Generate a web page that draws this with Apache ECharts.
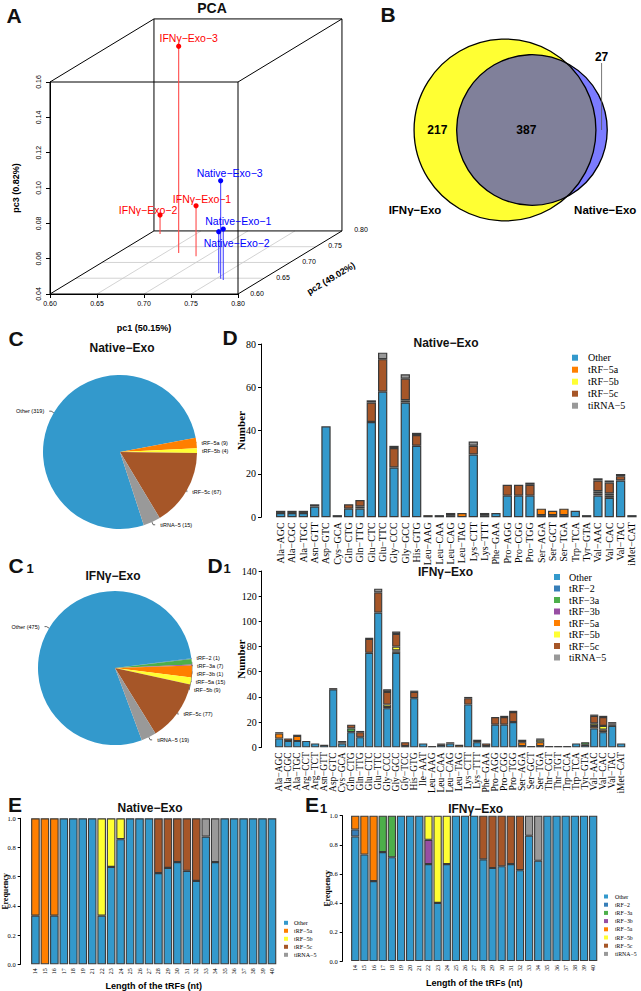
<!DOCTYPE html>
<html>
<head>
<meta charset="utf-8">
<script src="https://cdn.jsdelivr.net/npm/echarts@6.0.0/dist/echarts.min.js"></script>
<style>html,body{margin:0;padding:0;background:#ffffff;}#chart{width:641px;height:991px;}</style>
</head>
<body>
<div id="chart"></div>
<script>
// ================= DATA =================
// Panel A: PCA
const pcaNames = ['IFNγ−Exo−3', 'IFNγ−Exo−1', 'IFNγ−Exo−2', 'Native−Exo−3', 'Native−Exo−1', 'Native−Exo−2'];
const pcaGroup = ['IFN', 'IFN', 'IFN', 'Native', 'Native', 'Native'];
const pcaPC1 = [0.665, 0.689, 0.612, 0.755, 0.760, 0.743];
const pcaPC2 = [0.730, 0.720, 0.790, 0.648, 0.644, 0.666];
const pcaPC3 = [0.157, 0.0685, 0.0508, 0.0955, 0.0689, 0.0635];
const pc2Ticks = [0.60, 0.65, 0.70, 0.75, 0.80];
const pcaAxisTitles = ['pc1 (50.15%)', 'pc2 (49.02%)', 'pc3 (0.82%)'];

// Panel B: Venn
const vennSets = ['IFNγ−Exo', 'Native−Exo'];
const vennOnlyIFN = 217;
const vennBoth = 387;
const vennOnlyNative = 27;

// Panels C / C1: pies
const nativePieNames = ['Other', 'tRF−5a', 'tRF−5b', 'tRF−5c', 'tiRNA−5'];
const nativePieValues = [319, 9, 4, 67, 15];
const ifnPieNames = ['Other', 'tRF−2', 'tRF−3a', 'tRF−3b', 'tRF−5a', 'tRF−5b', 'tRF−5c', 'tiRNA−5'];
const ifnPieValues = [475, 1, 7, 1, 15, 9, 77, 19];

// Panel D: Native-Exo counts per tRNA
const nativeCats = ['Ala−AGC','Ala−CGC','Ala−TGC','Asn−GTT','Asp−GTC','Cys−GCA','Gln−CTG','Gln−TTG','Glu−CTC','Glu−TTC','Gly−CCC','Gly−GCC','His−GTG','Leu−AAG','Leu−CAA','Leu−CAG','Leu−TAG','Lys−CTT','Lys−TTT','Phe−GAA','Pro−AGG','Pro−CGG','Pro−TGG','Ser−AGA','Ser−GCT','Ser−TGA','Trp−TCA','Tyr−GTA','Val−AAC','Val−CAC','Val−TAC','iMet−CAT'];
const nativeOther  = [2,2,2,5,42,1,4,4,44,58,23,53,33,0,1,1,0,29,1,2,10,10,10,1,1,1,3,1,10,9,17,1];
const nativeTRF5a  = [0,0,0,0,0,0,0,0,0,0,0,0,0,1,0,1,2,0,0,0,0,0,0,3,2,3,0,0,1,1,0,0];
const nativeTRF5b  = [1,1,1,0,0,0,0,1,0,0,0,1,0,0,0,0,0,0,0,0,0,0,0,0,0,0,0,0,1,1,0,0];
const nativeTRF5c  = [0,0,0,0,0,0,2,3,9,15,9,10,5,0,0,0,0,4,1,0,5,5,5,0,0,0,0,0,5,5,2,0];
const nativeTiRNA5 = [0,0,0,1,0,0,0,0,1,3,1,2,1,0,0,0,0,2,0,0,0,0,1,0,0,0,0,0,1,1,1,0];

// Panel D1: IFNγ-Exo counts per tRNA
const ifnCats = ['Ala−AGC','Ala−CGC','Ala−TGC','Arg−CCT','Arg−TCT','Asn−GTT','Asp−GTC','Cys−GCA','Gln−CTG','Gln−TTG','Glu−CTC','Glu−TTC','Gly−CCC','Gly−GCC','Gly−TCC','His−GTG','Ile−AAT','Leu−AAG','Leu−CAA','Leu−CAG','Leu−TAG','Lys−CTT','Lys−TTT','Phe−GAA','Pro−AGG','Pro−CGG','Pro−TGG','Ser−AGA','Ser−GCT','Ser−TGA','Thr−CGT','Thr−TGT','Trp−CCA','Trp−TCA','Tyr−GTA','Val−AAC','Val−CAC','Val−TAC','iMet−CAT'];
const ifnOther  = [7,5,5,5,3,2,46,3,12,8,75,107,31,75,1,39,3,0,2,3,0,34,4,1,18,18,20,1,0,1,1,1,1,3,2,15,12,17,3];
const ifnTRF2   = [0,0,0,0,0,0,0,0,0,0,0,0,0,0,0,0,0,0,0,0,0,0,0,0,0,0,0,0,0,0,0,0,0,0,0,0,0,0,0];
const ifnTRF3a  = [0,0,0,0,0,0,0,0,3,0,0,0,0,1,0,0,0,0,0,0,0,0,0,0,0,0,0,0,0,0,0,0,0,0,2,0,0,0,0];
const ifnTRF3b  = [0,0,0,0,0,0,0,0,0,0,0,0,0,0,0,0,0,0,0,0,0,0,0,0,0,0,0,0,0,0,0,0,0,0,0,0,0,0,0];
const ifnTRF5a  = [4,0,4,0,0,0,0,1,0,0,0,0,1,1,0,0,0,1,0,0,2,0,0,0,0,0,0,3,0,3,0,0,0,0,0,2,2,1,0];
const ifnTRF5b  = [0,0,0,0,0,0,0,0,0,0,0,0,2,3,0,0,0,0,0,0,0,0,0,0,0,0,0,1,0,2,0,0,0,0,0,2,3,0,0];
const ifnTRF5c  = [1,2,1,0,0,0,1,1,3,4,11,16,10,10,3,5,0,0,1,1,0,5,1,2,6,6,8,0,1,0,0,0,0,0,0,6,7,1,0];
const ifnTiRNA5 = [0,0,0,0,0,0,0,0,0,1,1,3,2,2,0,1,0,0,0,0,0,1,1,0,0,1,1,1,0,1,0,0,0,0,0,1,1,1,0];

// Panel E: Native-Exo frequency by length
const eNativeLengths = ['14','15','16','17','18','19','21','22','23','24','25','26','27','28','29','30','31','32','33','34','35','36','37','38','39','40'];
const eNativeOther  = [0.333,0,0.333,1,1,1,1,0.333,0.667,0.857,1,1,1,0.625,0.66,0.70,0.64,0.571,0.875,0.70,1,1,1,1,1,1];
const eNativeTRF5a  = [0.667,1,0.667,0,0,0,0,0,0,0,0,0,0,0,0,0,0,0,0,0,0,0,0,0,0,0];
const eNativeTRF5b  = [0,0,0,0,0,0,0,0.667,0.333,0.143,0,0,0,0,0,0,0,0,0,0,0,0,0,0,0,0];
const eNativeTRF5c  = [0,0,0,0,0,0,0,0,0,0,0,0,0,0.375,0.34,0.30,0.36,0.429,0,0,0,0,0,0,0,0];
const eNativeTiRNA5 = [0,0,0,0,0,0,0,0,0,0,0,0,0,0,0,0,0,0,0.125,0.30,0,0,0,0,0,0];

// Panel E1: IFNγ-Exo frequency by length
const eIfnLengths = ['14','15','16','17','18','19','20','21','22','23','24','25','26','27','28','29','30','31','32','33','34','35','36','37','38','39','40'];
const eIfnOther  = [0.857,0.733,0.55,0.75,0.714,1,1,1,0.667,0.4,0.667,1,1,1,0.7,0.64,0.652,0.667,0.625,0.862,0.69,1,1,1,1,1,1];
const eIfnTRF2   = [0.048,0,0,0,0,0,0,0,0,0,0,0,0,0,0,0,0,0,0,0,0,0,0,0,0,0,0];
const eIfnTRF3a  = [0,0,0,0.25,0.286,0,0,0,0,0,0,0,0,0,0,0,0,0,0,0,0,0,0,0,0,0,0];
const eIfnTRF3b  = [0,0,0,0,0,0,0,0,0.167,0,0,0,0,0,0,0,0,0,0,0,0,0,0,0,0,0,0];
const eIfnTRF5a  = [0.095,0.267,0.45,0,0,0,0,0,0,0,0,0,0,0,0,0,0,0,0,0,0,0,0,0,0,0,0];
const eIfnTRF5b  = [0,0,0,0,0,0,0,0,0.166,0.6,0.333,0,0,0,0,0,0,0,0,0,0,0,0,0,0,0,0];
const eIfnTRF5c  = [0,0,0,0,0,0,0,0,0,0,0,0,0,0,0.3,0.36,0.348,0.333,0.375,0,0,0,0,0,0,0,0];
const eIfnTiRNA5 = [0,0,0,0,0,0,0,0,0,0,0,0,0,0,0,0,0,0,0,0.138,0.31,0,0,0,0,0,0];

// ================= STYLE =================
const SANS = "'Liberation Sans', Arial, sans-serif";
const SERIF = "'Liberation Serif', 'Times New Roman', serif";
const typeColors = {
  'Other': '#3399CC', 'tRF−2': '#377EB8', 'tRF−3a': '#4DAF4A', 'tRF−3b': '#984EA3',
  'tRF−5a': '#FF7F00', 'tRF−5b': '#FFFF33', 'tRF−5c': '#A65628', 'tiRNA−5': '#999999'
};
const nativeTypes = ['Other', 'tRF−5a', 'tRF−5b', 'tRF−5c', 'tiRNA−5'];
const ifnTypes = ['Other', 'tRF−2', 'tRF−3a', 'tRF−3b', 'tRF−5a', 'tRF−5b', 'tRF−5c', 'tiRNA−5'];
const pcaLabelOffsets = [[10, -8], [6, -7], [-12, -5], [9, -8], [15, -8], [18, 11]];

// PCA oblique projection (pc2 depth mapped onto pc1/pc3 data units)
const PC1_MIN = 0.6, PC1_MAX = 0.8, PC2_MIN = 0.6, PC2_MAX = 0.8, PC3_MIN = 0.04, PC3_MAX = 0.16;
const DEPTH_X = 0.553, DEPTH_Y = 0.1785;
function proj(api, p1, p2, p3) {
  return api.coord([p1 + DEPTH_X * (p2 - PC2_MIN), p3 + DEPTH_Y * (p2 - PC2_MIN)]);
}
function seg(a, b, style) {
  return { type: 'line', shape: { x1: a[0], y1: a[1], x2: b[0], y2: b[1] }, style: style };
}

// Venn layout
const VENN_CX = 505, VENN_CY = 130, VENN_PX_PER_SQRT = 3.70;
function lensArea(r1, r2, d) {
  if (d >= r1 + r2) return 0;
  if (d <= Math.abs(r1 - r2)) return Math.PI * Math.min(r1, r2) ** 2;
  const a1 = Math.acos((d * d + r1 * r1 - r2 * r2) / (2 * d * r1));
  const a2 = Math.acos((d * d + r2 * r2 - r1 * r1) / (2 * d * r2));
  const k = 0.5 * Math.sqrt((-d + r1 + r2) * (d + r1 - r2) * (d - r1 + r2) * (d + r1 + r2));
  return r1 * r1 * a1 + r2 * r2 * a2 - k;
}

function barStack(types, arrays, axisIdx, stack, gap, bw) {
  return types.map((t, k) => ({
    type: 'bar', name: t, xAxisIndex: axisIdx, yAxisIndex: axisIdx, stack: stack,
    data: arrays[k].map(v => (v === 0 ? null : v)),
    barCategoryGap: gap,
    itemStyle: { color: typeColors[t], borderColor: '#3a3a3a', borderWidth: bw },
    emphasis: { disabled: true }, silent: true
  }));
}

function pieSeries(names, values, center, startAngle) {
  return {
    type: 'pie', center: center, radius: 77, startAngle: startAngle, clockwise: true,
    data: names.map((n, i) => ({ name: n, value: values[i], itemStyle: { color: typeColors[n] } })),
    label: { show: true, position: 'outside', formatter: '{b} ({c})', fontSize: 5.5, fontFamily: SANS, color: '#000' },
    labelLine: { show: true, length: 3, length2: 2, lineStyle: { color: '#000', width: 0.6 } },
    itemStyle: { borderWidth: 0 }, emphasis: { disabled: true }, silent: true, avoidLabelOverlap: true
  };
}

const gridBase = { containLabel: false, outerBoundsMode: 'none' };
const blackLine = { show: true, lineStyle: { color: '#000', width: 1 } };

function catX(gi, cats, fs, margin, extra) {
  return Object.assign({
    type: 'category', gridIndex: gi, data: cats,
    axisLine: { show: false }, axisTick: { show: false },
    axisLabel: { interval: 0, rotate: 90, fontSize: fs, fontFamily: SERIF, color: '#000', margin: margin },
    splitLine: { show: false }
  }, extra || {});
}
function valY(gi, max, interval, offset, fs, name, nameGap, nameSize, fmt) {
  return {
    type: 'value', gridIndex: gi, min: 0, max: max, interval: interval, offset: offset,
    axisLine: blackLine, axisTick: { show: true, length: 3, lineStyle: { color: '#000' } },
    axisLabel: { fontSize: fs, fontFamily: SERIF, color: '#000', margin: 5, formatter: fmt },
    splitLine: { show: false },
    name: name, nameLocation: 'middle', nameGap: nameGap, nameRotate: 90, nameMoveOverlap: false,
    nameTextStyle: { fontFamily: SERIF, fontWeight: 'bold', fontSize: nameSize, color: '#000' }
  };
}
function legendAt(left, top, names, fs, iconSize, lineH, gap, pad) {
  return {
    left: left, top: top, orient: 'vertical', data: names, icon: 'rect', padding: 0,
    itemWidth: iconSize, itemHeight: iconSize, itemGap: gap, selectedMode: false,
    itemStyle: { borderWidth: 0 },
    textStyle: { fontFamily: SERIF, fontSize: fs, color: '#000', lineHeight: lineH, padding: [0, 0, 0, pad] }
  };
}

const texts = [
  ['A', 14, 15, 21], ['PCA', 212, 8, 14], ['B', 388, 14, 21],
  ['C', 16, 338, 21], ['Native−Exo', 122, 348, 12], ['D', 230, 337, 21], ['Native−Exo', 446, 343, 12],
  ['C', 16, 565, 21], ['1', 30, 568, 13], ['IFNγ−Exo', 113, 575.5, 12],
  ['D', 215, 565, 21], ['1', 227, 568, 13], ['IFNγ−Exo', 445.5, 572, 12],
  ['E', 15, 804, 21], ['Native−Exo', 150, 807.5, 12],
  ['E', 312, 804, 21], ['1', 323.5, 808, 13], ['IFNγ−Exo', 475.7, 809, 12]
];

const option = {
  animation: false,
  textStyle: { fontFamily: SANS },
  grid: [
    Object.assign({ left: 50, top: 82, width: 188, height: 212 }, gridBase),
    Object.assign({ left: 275, top: 344, width: 362.6, height: 173.3 }, gridBase),
    Object.assign({ left: 274.7, top: 571, width: 351, height: 176.3 }, gridBase),
    Object.assign({ left: 30.7, top: 818.3, width: 246, height: 146 }, gridBase),
    Object.assign({ left: 350.7, top: 815.7, width: 247, height: 145.3 }, gridBase)
  ],
  xAxis: [
    {
      type: 'value', gridIndex: 0, min: PC1_MIN, max: PC1_MAX, interval: 0.05,
      axisLine: blackLine, axisTick: { show: true, length: 4, lineStyle: { color: '#000' } },
      axisLabel: { fontSize: 7, color: '#000', fontFamily: SANS, margin: 6, formatter: v => v.toFixed(2) },
      splitLine: { show: false },
      name: pcaAxisTitles[0], nameLocation: 'middle', nameGap: 29, nameMoveOverlap: false,
      nameTextStyle: { fontWeight: 'bold', fontSize: 9, color: '#000', fontFamily: SANS }
    },
    catX(1, nativeCats, 10, 5),
    catX(2, ifnCats, 9.5, 5),
    catX(3, eNativeLengths, 6, 4, {
      name: 'Length of the tRFs (nt)', nameLocation: 'middle', nameGap: 17, nameMoveOverlap: false,
      nameTextStyle: { fontFamily: SANS, fontWeight: 'bold', fontSize: 9, color: '#000' }
    }),
    catX(4, eIfnLengths, 6, 4, {
      name: 'Length of the tRFs (nt)', nameLocation: 'middle', nameGap: 17, nameMoveOverlap: false,
      nameTextStyle: { fontFamily: SANS, fontWeight: 'bold', fontSize: 9, color: '#000' }
    })
  ],
  yAxis: [
    {
      type: 'value', gridIndex: 0, min: PC3_MIN, max: PC3_MAX, interval: 0.02,
      axisLine: blackLine, axisTick: { show: true, length: 4, lineStyle: { color: '#000' } },
      axisLabel: { fontSize: 7, color: '#000', fontFamily: SANS, margin: 8, rotate: 90, formatter: v => v.toFixed(2) },
      splitLine: { show: false },
      name: pcaAxisTitles[2], nameLocation: 'middle', nameGap: 30, nameRotate: 90, nameMoveOverlap: false,
      nameTextStyle: { fontWeight: 'bold', fontSize: 9, color: '#000', fontFamily: SANS }
    },
    valY(1, 80, 20, 14, 10, 'Number', 15, 11),
    valY(2, 140, 20, 13, 10, 'Number', 15, 11),
    valY(3, 1, 0.2, 10, 6.5, 'Frequency', 11, 8, v => v.toFixed(1)),
    valY(4, 1, 0.2, 8, 6.5, 'Frequency', 11, 8, v => v.toFixed(1))
  ],
  legend: [
    legendAt(572, 352.7, nativeTypes, 10, 6, 10, 2, 5),
    legendAt(554, 572, ifnTypes, 10, 6, 10, 1.5, 4),
    legendAt(284, 919.3, nativeTypes, 6, 4, 7, 1, 1),
    legendAt(604, 893, ifnTypes, 5.8, 4, 7, 1.2, 2)
  ],
  series: [].concat(
    // PCA box, floor grid, pc2 axis labels
    [{
      type: 'custom', xAxisIndex: 0, yAxisIndex: 0, silent: true, clip: false,
      data: [[PC1_MIN, PC3_MIN]],
      renderItem: function (params, api) {
        const P = (a, b, c) => proj(api, a, b, c);
        const ch = [];
        const gridStyle = { stroke: '#c8c8c8', lineWidth: 0.8 };
        pc2Ticks.slice(1, -1).forEach(t => {
          ch.push(seg(P(PC1_MIN, t, PC3_MIN), P(PC1_MAX, t, PC3_MIN), gridStyle));
        });
        [0.65, 0.70, 0.75].forEach(t => {
          ch.push(seg(P(t, PC2_MIN, PC3_MIN), P(t, PC2_MAX, PC3_MIN), gridStyle));
        });
        const cs = [];
        [PC1_MIN, PC1_MAX].forEach(x => [PC2_MIN, PC2_MAX].forEach(y => [PC3_MIN, PC3_MAX].forEach(z => cs.push([x, y, z]))));
        const boxStyle = { stroke: '#000', lineWidth: 1 };
        for (let i = 0; i < cs.length; i++) for (let j = i + 1; j < cs.length; j++) {
          let diff = 0;
          for (let k = 0; k < 3; k++) if (cs[i][k] !== cs[j][k]) diff++;
          if (diff === 1) ch.push(seg(P(cs[i][0], cs[i][1], cs[i][2]), P(cs[j][0], cs[j][1], cs[j][2]), boxStyle));
        }
        pc2Ticks.forEach(t => {
          const q = P(PC1_MAX, t, PC3_MIN);
          ch.push({ type: 'text', x: q[0] + 19, y: q[1] - 1, style: { text: t.toFixed(2), fontSize: 7, fontFamily: SANS, fill: '#000', align: 'center', verticalAlign: 'middle' } });
        });
        const m = P(PC1_MAX, (PC2_MIN + PC2_MAX) / 2, PC3_MIN);
        ch.push({ type: 'text', x: m[0] + 41, y: m[1] + 16, rotation: 0.54, style: { text: pcaAxisTitles[1], fontSize: 9, fontWeight: 'bold', fontFamily: SANS, fill: '#000', align: 'center', verticalAlign: 'middle' } });
        return { type: 'group', children: ch };
      }
    },
    // PCA points
    {
      type: 'custom', xAxisIndex: 0, yAxisIndex: 0, silent: true, clip: false,
      data: pcaPC1.map((v, i) => [v, pcaPC3[i]]),
      renderItem: function (params, api) {
        const i = params.dataIndex;
        const p = proj(api, pcaPC1[i], pcaPC2[i], pcaPC3[i]);
        const f = proj(api, pcaPC1[i], pcaPC2[i], PC3_MIN);
        const ifn = pcaGroup[i] === 'IFN';
        const col = ifn ? '#FF0000' : '#0000FF';
        const lcol = ifn ? '#FF4B4B' : '#4B4BFF';
        const off = pcaLabelOffsets[i];
        return { type: 'group', children: [
          seg(p, f, { stroke: lcol, lineWidth: 1.1 }),
          { type: 'circle', shape: { cx: p[0], cy: p[1], r: 2.6 }, style: { fill: col } },
          { type: 'text', x: p[0] + off[0], y: p[1] + off[1], style: { text: pcaNames[i], fill: col, fontSize: 10.5, fontFamily: SANS, align: 'center', verticalAlign: 'middle' } }
        ] };
      }
    },
    // Venn diagram
    {
      type: 'custom', coordinateSystem: 'none', silent: true, data: [0],
      renderItem: function (params, api) {
        const nI = vennOnlyIFN + vennBoth, nN = vennOnlyNative + vennBoth;
        const r1 = VENN_PX_PER_SQRT * Math.sqrt(nI), r2 = VENN_PX_PER_SQRT * Math.sqrt(nN);
        const target = vennBoth / nI * Math.PI * r1 * r1;
        let lo = Math.abs(r1 - r2) + 1e-6, hi = r1 + r2;
        for (let k = 0; k < 80; k++) {
          const mid = (lo + hi) / 2;
          if (lensArea(r1, r2, mid) > target) lo = mid; else hi = mid;
        }
        const d = (lo + hi) / 2;
        const c1 = [VENN_CX, VENN_CY], c2 = [VENN_CX + d, VENN_CY];
        const a = (d * d + r1 * r1 - r2 * r2) / (2 * d);
        const h = Math.sqrt(Math.max(r1 * r1 - a * a, 0));
        const pts = [];
        const b1 = Math.atan2(-h, a - d), b2 = Math.atan2(h, a - d) - 2 * Math.PI;
        for (let s = 0; s <= 120; s++) {
          const t = b1 + (b2 - b1) * s / 120;
          pts.push([c2[0] + r2 * Math.cos(t), c2[1] + r2 * Math.sin(t)]);
        }
        const y1 = Math.atan2(h, a), y2 = Math.atan2(-h, a);
        for (let s = 0; s <= 60; s++) {
          const t = y1 + (y2 - y1) * s / 60;
          pts.push([c1[0] + r1 * Math.cos(t), c1[1] + r1 * Math.sin(t)]);
        }
        const xm = (c1[0] + r1 + c2[0] + r2) / 2;
        const txt = (s, x, y, fs) => ({ type: 'text', x: x, y: y, style: { text: s, fontSize: fs || 12, fontWeight: 'bold', fontFamily: SANS, fill: '#000', align: 'center', verticalAlign: 'middle' } });
        return { type: 'group', children: [
          { type: 'circle', shape: { cx: c1[0], cy: c1[1], r: r1 }, style: { fill: '#FFFF33' } },
          { type: 'circle', shape: { cx: c2[0], cy: c2[1], r: r2 }, style: { fill: '#7B7BFF' } },
          { type: 'polygon', shape: { points: pts }, style: { fill: '#80809A' } },
          { type: 'circle', shape: { cx: c1[0], cy: c1[1], r: r1 }, style: { fill: null, stroke: '#000', lineWidth: 1.3 } },
          { type: 'circle', shape: { cx: c2[0], cy: c2[1], r: r2 }, style: { fill: null, stroke: '#000', lineWidth: 1.3 } },
          txt(String(vennOnlyIFN), (c1[0] - r1 + c2[0] - r2) / 2 + 2, c1[1]),
          txt(String(vennBoth), (c2[0] - r2 + c1[0] + r1) / 2, c1[1]),
          seg([xm, c1[1] - 67], [xm, c1[1]], { stroke: '#555', lineWidth: 0.8 }),
          txt(String(vennOnlyNative), xm, c1[1] - 73),
          txt(vennSets[0], c1[0] - 90, c1[1] + 80, 11.5),
          txt(vennSets[1], c2[0] + r2 - 2, c1[1] + 80, 11.5)
        ] };
      }
    },
    pieSeries(nativePieNames, nativePieValues, [120, 452], 288),
    pieSeries(ifnPieNames, ifnPieValues, [115, 668], 290.4)],
    barStack(nativeTypes, [nativeOther, nativeTRF5a, nativeTRF5b, nativeTRF5c, nativeTiRNA5], 1, 'd', '18%', 1.2),
    barStack(ifnTypes, [ifnOther, ifnTRF2, ifnTRF3a, ifnTRF3b, ifnTRF5a, ifnTRF5b, ifnTRF5c, ifnTiRNA5], 2, 'd1', '10%', 1.1),
    barStack(nativeTypes, [eNativeOther, eNativeTRF5a, eNativeTRF5b, eNativeTRF5c, eNativeTiRNA5], 3, 'e', '9%', 1.1),
    barStack(ifnTypes, [eIfnOther, eIfnTRF2, eIfnTRF3a, eIfnTRF3b, eIfnTRF5a, eIfnTRF5b, eIfnTRF5c, eIfnTiRNA5], 4, 'e1', '9%', 1.1)
  ),
  graphic: texts.map(t => ({
    type: 'text', x: t[1], y: t[2], silent: true,
    style: { text: t[0], fontSize: t[3], fontWeight: 'bold', fontFamily: SANS, fill: '#111', align: 'center', verticalAlign: 'middle' }
  }))
};

const chart = echarts.init(document.getElementById('chart'), null, { renderer: 'svg', width: 641, height: 991 });
chart.setOption(option);
</script>
</body>
</html>
